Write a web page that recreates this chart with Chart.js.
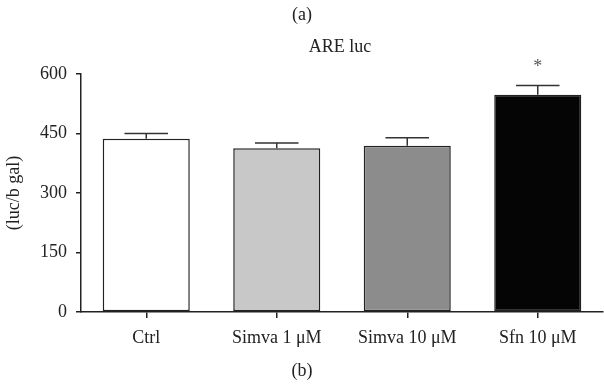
<!DOCTYPE html>
<html>
<head>
<meta charset="UTF-8">
<title>ARE luc</title>
<script src="https://cdn.jsdelivr.net/npm/chart.js"></script>
<style>
  html, body { margin: 0; padding: 0; background: #fff; }
  #box { position: relative; width: 604px; height: 386px; }
</style>
</head>
<body>
<div id="box"><canvas id="grafico" width="604" height="386"></canvas></div>
<script>
const categorias = ["Ctrl", "Simva 1 \u03BCM", "Simva 10 \u03BCM", "Sfn 10 \u03BCM"];
const valores = [437, 413, 419, 548];
const erros = [13, 13, 20, 23];
const marcas = ["", "", "", "*"];
const yTicks = [0, 150, 300, 450, 600];
const cores = ["#ffffff", "#c8c8c8", "#8c8c8c", "#050505"];

const fonte = "'Liberation Serif', 'DejaVu Serif', serif";

// barras de erro, asterisco e legendas (a)/(b)
const extras = {
  id: 'extras',
  afterDatasetsDraw(chart) {
    const ctx = chart.ctx;
    const y = chart.scales.y;
    const meta = chart.getDatasetMeta(0);
    ctx.save();
    ctx.strokeStyle = '#333';
    ctx.lineWidth = 1.5;
    meta.data.forEach((bar, i) => {
      const topo = y.getPixelForValue(valores[i]);
      const alto = y.getPixelForValue(valores[i] + erros[i]);
      const meia = bar.width / 4;
      ctx.beginPath();
      ctx.moveTo(bar.x, topo);
      ctx.lineTo(bar.x, alto);
      ctx.moveTo(bar.x - meia, alto);
      ctx.lineTo(bar.x + meia, alto);
      ctx.stroke();
      if (marcas[i]) {
        ctx.fillStyle = '#555';
        ctx.font = "18px " + fonte;
        ctx.textAlign = 'center';
        ctx.textBaseline = 'middle';
        ctx.fillText(marcas[i], bar.x, alto - 18);
      }
    });
    ctx.restore();
  },
  afterDraw(chart) {
    const ctx = chart.ctx;
    ctx.save();
    ctx.fillStyle = '#222';
    ctx.font = "18px " + fonte;
    ctx.textAlign = 'center';
    ctx.textBaseline = 'middle';
    ctx.fillText("(a)", 302, 15);
    ctx.fillText("ARE luc", 340, 47);
    ctx.fillText("(b)", 302, 371);
    ctx.translate(14, 193);
    ctx.rotate(-Math.PI / 2);
    ctx.fillText("(luc/b gal)", 0, 0);
    ctx.restore();
  }
};

new Chart(document.getElementById('grafico'), {
  type: 'bar',
  data: {
    labels: categorias,
    datasets: [{
      data: valores,
      backgroundColor: cores,
      borderColor: '#222',
      borderWidth: 1.5,
      borderSkipped: false,
      categoryPercentage: 1,
      barPercentage: 0.667
    }]
  },
  options: {
    responsive: false,
    animation: false,
    layout: { padding: { top: 74, right: 1, left: 0, bottom: 0 } },
    plugins: {
      legend: { display: false },
      tooltip: { enabled: false }
    },
    scales: {
      x: {
        grid: { display: true, drawOnChartArea: false, drawTicks: true, tickLength: 6, offset: false, color: '#222', lineWidth: 1.5 },
        border: { display: true, color: '#222', width: 1.5 },
        ticks: { color: '#222', padding: 9, font: { family: fonte, size: 18 }, maxRotation: 0 },
        afterFit(scale) { scale.height = 74; }
      },
      y: {
        min: 0,
        max: 600,
        afterBuildTicks(scale) { scale.ticks = yTicks.map(v => ({ value: v })); },
        grid: { display: true, drawOnChartArea: false, drawTicks: true, tickLength: 5, color: '#222', lineWidth: 1.5 },
        border: { display: true, color: '#222', width: 1.5 },
        ticks: { color: '#222', padding: 9, font: { family: fonte, size: 18 } },
        afterFit(scale) { scale.width = 81; }
      }
    }
  },
  plugins: [extras]
});
</script>
</body>
</html>
